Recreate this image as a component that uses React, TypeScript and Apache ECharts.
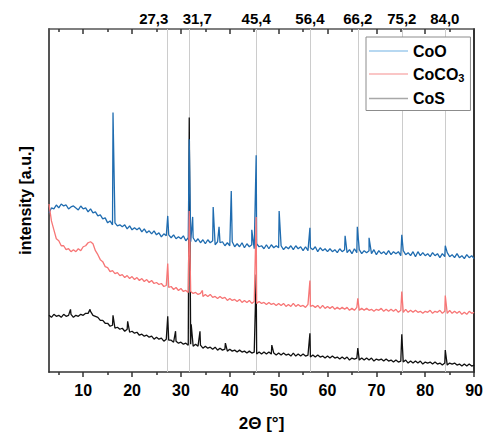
import React, { useEffect, useRef } from "react";
import * as echarts from "echarts";

// 2Θ sampling grid of the baseline readings
const X_START = 3;
const X_STEP = 0.5;

// Baseline intensities (a.u.), 2Θ = 3.0 ... 90.0 step 0.5
const cooBase = [
  160, 165, 164, 168, 165, 169, 167, 168, 164, 166,
  167, 165, 163, 167, 164, 165, 161, 164, 160, 161,
  157, 158, 154, 155, 150, 152, 148, 150, 147, 148,
  146, 148, 144, 147, 143, 145, 143, 145, 141, 144,
  140, 142, 139, 142, 138, 140, 136, 139, 137, 138,
  135, 138, 134, 136, 134, 137, 132, 135, 131, 135,
  131, 134, 130, 133, 129, 133, 130, 132, 128, 131,
  130, 131, 127, 130, 127, 131, 126, 129, 126, 130,
  125, 129, 126, 128, 124, 129, 126, 127, 124, 128,
  124, 128, 125, 127, 125, 127, 123, 126, 124, 127,
  123, 127, 124, 126, 122, 126, 122, 125, 123, 126,
  121, 125, 122, 124, 121, 124, 121, 123, 120, 124,
  121, 123, 120, 123, 119, 124, 120, 123, 119, 122,
  120, 122, 119, 123, 118, 122, 119, 121, 118, 122,
  118, 121, 119, 121, 117, 122, 118, 120, 117, 121,
  116, 121, 117, 120, 117, 119, 116, 120, 117, 119,
  115, 119, 116, 120, 116, 118, 115, 119, 115, 117,
  114, 118, 115, 117, 114,
];

const cocoBase = [
  169, 152, 143, 134, 132, 127, 127, 123, 124, 121,
  123, 121, 124, 122, 126, 127, 130, 131, 129, 122,
  118, 113, 111, 106, 105, 101, 102, 99, 100, 97,
  98, 95, 97, 94, 96, 93, 95, 92, 94, 91,
  93, 90, 92, 89, 90, 88, 89, 86, 87, 85,
  86, 83, 85, 82, 84, 81, 82, 80, 81, 79,
  80, 78, 79, 76, 78, 76, 78, 75, 76, 74,
  76, 74, 75, 72, 74, 72, 73, 71, 73, 70,
  72, 70, 72, 69, 71, 69, 71, 69, 70, 68,
  70, 68, 69, 67, 69, 67, 69, 66, 68, 66,
  69, 66, 68, 66, 67, 65, 68, 66, 67, 65,
  67, 64, 67, 64, 66, 64, 66, 63, 65, 63,
  65, 63, 65, 62, 64, 62, 65, 62, 64, 62,
  64, 62, 63, 61, 63, 62, 64, 61, 63, 61,
  63, 61, 63, 60, 62, 60, 63, 60, 62, 60,
  62, 60, 61, 59, 61, 60, 62, 59, 61, 60,
  62, 59, 61, 59, 62, 59, 61, 59, 61, 58,
  60, 58, 61, 59, 60,
];

const cosBase = [
  57, 55, 58, 56, 57, 55, 58, 56, 57, 58,
  55, 57, 56, 58, 57, 59, 59, 61, 57, 56,
  55, 52, 52, 49, 49, 46, 47, 44, 45, 43,
  44, 41, 43, 40, 41, 39, 40, 37, 38, 36,
  37, 35, 36, 33, 35, 33, 34, 31, 33, 32,
  32, 30, 31, 29, 30, 28, 29, 27, 28, 26,
  28, 26, 27, 24, 26, 24, 25, 23, 25, 22,
  24, 22, 23, 21, 23, 21, 22, 20, 22, 20,
  21, 19, 21, 19, 20, 18, 20, 18, 20, 18,
  20, 18, 19, 17, 19, 17, 19, 17, 18, 16,
  19, 16, 18, 16, 18, 16, 17, 15, 17, 15,
  17, 15, 16, 14, 16, 14, 16, 14, 15, 13,
  15, 13, 15, 12, 14, 13, 14, 12, 14, 12,
  14, 12, 14, 11, 13, 12, 13, 11, 13, 11,
  12, 10, 12, 10, 11, 10, 12, 9, 11, 9,
  11, 9, 11, 8, 10, 9, 10, 8, 10, 8,
  9, 7, 9, 7, 9, 8, 9, 7, 8, 6,
  8, 6, 8, 6, 7,
];

// Reflections: [2Θ, peak intensity]
const cooPeaks = [
  [16.1, 261], [27.3, 157], [31.7, 234], [32.4, 156], [36.6, 166], [37.8, 146],
  [40.3, 182], [44.5, 143], [45.4, 218], [50.1, 162], [56.4, 145], [63.6, 137],
  [66.1, 146], [68.5, 135], [75.2, 138], [84.1, 127],
];
const cocoPeaks = [
  [27.3, 109], [31.7, 162], [34.4, 82], [45.4, 156], [56.4, 92], [66.2, 74],
  [75.2, 81], [84.1, 77],
];
const cosPeaks = [
  [7.4, 63], [11.4, 63], [16.1, 57], [19.1, 51], [27.3, 56], [28.9, 41],
  [31.7, 256], [32.1, 48], [33.9, 41], [39.1, 29], [45.4, 98], [48.6, 27],
  [56.4, 39], [66.2, 24], [75.2, 38], [84.1, 22],
];

// Reference reflection positions (top labels + grey lines)
const refPositions = [27.3, 31.7, 45.4, 56.4, 66.2, 75.2, 84.0];
const majorTicks = [10, 20, 30, 40, 50, 60, 70, 80, 90];
const minorTicks = [5, 15, 25, 35, 45, 55, 65, 75, 85];

const FONT = "'Liberation Sans', Arial, sans-serif";

function buildData(base: number[], peaks: number[][]) {
  const pts: number[][] = base.map((v, i) => [X_START + i * X_STEP, v]);
  peaks.forEach((p) => pts.push([p[0], p[1]]));
  pts.sort((a, b) => a[0] - b[0]);
  return pts;
}

export default function App() {
  const ref = useRef<HTMLDivElement>(null);
  useEffect(() => {
    document.body.style.margin = "0";
    const chart = echarts.init(ref.current!, null, { renderer: "svg" });
    const axisCommon = { type: "value", min: 3, max: 90, splitLine: { show: false } };
    const option: any = {
      animation: false,
      backgroundColor: "#ffffff",
      grid: { left: 49, right: 9, top: 29, bottom: 63 },
      legend: {
        orient: "vertical",
        left: 366,
        top: 37,
        padding: [6, 6, 4, 3],
        itemGap: 7,
        itemWidth: 39,
        itemHeight: 1.5,
        itemTextGap: 6,
        icon: "rect",
        borderColor: "#8c8c8c",
        borderWidth: 1,
        backgroundColor: "#ffffff",
        data: [
          { name: "CoO", icon: "rect", itemStyle: { color: "#9fcbec" } },
          { name: "CoCO3", icon: "rect", itemStyle: { color: "#f9b3b3" } },
          { name: "CoS", icon: "rect", itemStyle: { color: "#a8a8a8" } },
        ],
        formatter: (n: string) => (n === "CoCO3" ? "CoCO{sub|3}" : n),
        textStyle: {
          fontFamily: FONT,
          fontSize: 16,
          fontWeight: "bold",
          color: "#000",
          rich: {
            sub: { fontFamily: FONT, fontSize: 11, fontWeight: "bold", color: "#000", padding: [8, 0, 0, 0] },
          },
        },
      },
      xAxis: [
        {
          ...axisCommon,
          position: "bottom",
          axisLine: { show: true, onZero: false, lineStyle: { color: "#333", width: 1.5 } },
          axisTick: { show: true, customValues: majorTicks, length: 5, lineStyle: { color: "#333", width: 1.5 } },
          axisLabel: {
            customValues: majorTicks,
            fontFamily: FONT,
            fontSize: 16,
            fontWeight: "bold",
            color: "#000",
            margin: 10,
          },
          name: "2Θ [°]",
          nameLocation: "middle",
          nameGap: 43,
          nameTextStyle: { fontFamily: FONT, fontSize: 17, fontWeight: "bold", color: "#000" },
        },
        {
          ...axisCommon,
          position: "bottom",
          axisLine: { show: false, onZero: false },
          axisTick: { show: true, customValues: minorTicks, length: 3, lineStyle: { color: "#333", width: 1.5 } },
          axisLabel: { show: false },
        },
        {
          ...axisCommon,
          position: "top",
          axisLine: { show: true, onZero: false, lineStyle: { color: "#555", width: 1.5 } },
          axisTick: { show: true, inside: true, customValues: majorTicks, length: 5, lineStyle: { color: "#333", width: 1.5 } },
          axisLabel: {
            customValues: refPositions,
            margin: 3,
            fontFamily: FONT,
            fontSize: 15,
            fontWeight: "bold",
            color: "#000",
            formatter: (v: number) => {
              const s = v.toFixed(1).replace(".", ",");
              if (Math.abs(v - 27.3) < 0.01) return "{l|" + s + "}";
              if (Math.abs(v - 31.7) < 0.01) return "{r|" + s + "}";
              return s;
            },
            rich: {
              l: { fontFamily: FONT, fontSize: 15, fontWeight: "bold", color: "#000", padding: [0, 28, 0, 0] },
              r: { fontFamily: FONT, fontSize: 15, fontWeight: "bold", color: "#000", padding: [0, 0, 0, 16] },
            },
          },
        },
        {
          ...axisCommon,
          position: "top",
          axisLine: { show: false, onZero: false },
          axisTick: { show: true, inside: true, customValues: minorTicks, length: 3, lineStyle: { color: "#333", width: 1.5 } },
          axisLabel: { show: false },
        },
      ],
      yAxis: [
        {
          type: "value",
          min: 0,
          max: 345,
          position: "left",
          axisLine: { show: true, onZero: false, lineStyle: { color: "#555", width: 2 } },
          axisTick: { show: false },
          axisLabel: { show: false },
          splitLine: { show: false },
          name: "intensity [a.u.]",
          nameLocation: "middle",
          nameGap: 16,
          nameTextStyle: { fontFamily: FONT, fontSize: 16, fontWeight: "bold", color: "#000" },
        },
        {
          type: "value",
          min: 0,
          max: 345,
          position: "right",
          axisLine: { show: true, onZero: false, lineStyle: { color: "#333", width: 2 } },
          axisTick: { show: false },
          axisLabel: { show: false },
          splitLine: { show: false },
        },
      ],
      series: [
        {
          name: "refs",
          type: "line",
          data: [],
          z: 1,
          silent: true,
          markLine: {
            z: 1,
            silent: true,
            symbol: ["none", "none"],
            label: { show: false },
            lineStyle: { color: "#cccccc", width: 1, type: "solid" },
            data: refPositions.map((v) => ({ xAxis: v })),
          },
        },
        {
          name: "CoS",
          type: "line",
          z: 2,
          data: buildData(cosBase, cosPeaks),
          showSymbol: false,
          symbol: "none",
          color: "#111111",
          lineStyle: { color: "#111111", width: 1.3 },
        },
        {
          name: "CoO",
          type: "line",
          z: 3,
          data: buildData(cooBase, cooPeaks),
          showSymbol: false,
          symbol: "none",
          color: "#1f6cb0",
          lineStyle: { color: "#1f6cb0", width: 1.3 },
        },
        {
          name: "CoCO3",
          type: "line",
          z: 4,
          data: buildData(cocoBase, cocoPeaks),
          showSymbol: false,
          symbol: "none",
          color: "#f77676",
          lineStyle: { color: "#f77676", width: 1.3 },
        },
      ],
    };
    chart.setOption(option);
    return () => chart.dispose();
  }, []);
  return <div ref={ref} style={{ width: 486, height: 437 }} />;
}
